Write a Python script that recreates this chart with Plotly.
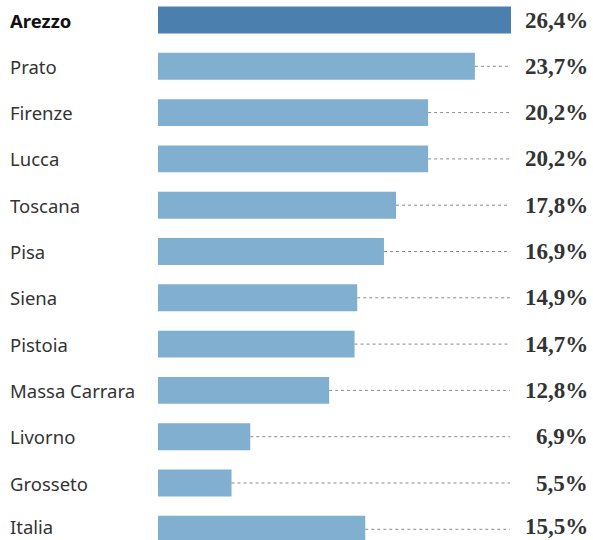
import plotly.graph_objects as go

categories = ["Arezzo", "Prato", "Firenze", "Lucca", "Toscana", "Pisa", "Siena",
              "Pistoia", "Massa Carrara", "Livorno", "Grosseto", "Italia"]
values = [26.4, 23.7, 20.2, 20.2, 17.8, 16.9, 14.9, 14.7, 12.8, 6.9, 5.5, 15.5]
value_labels = ["26,4%", "23,7%", "20,2%", "20,2%", "17,8%", "16,9%", "14,9%",
                "14,7%", "12,8%", "6,9%", "5,5%", "15,5%"]
highlight = "Arezzo"

W, H = 593, 540
L = 158
plot_w = W - L
px_per_unit = (511 - L) / 26.4
xmax = plot_w / px_per_unit
dots_end = (510 - L) / px_per_unit

row = 46.3
top_offset = 20 / row
yr_top = -top_offset
yr_bot = yr_top + H / row

idx = list(range(len(categories)))
colors = ["#4b80ae" if c == highlight else "#80afd0" for c in categories]

fig = go.Figure()
fig.add_trace(go.Bar(
    x=values, y=idx, orientation="h", marker=dict(color=colors, line=dict(width=0)),
    width=0.58, hoverinfo="skip"))

n = len(categories)
for i, (c, v, lab) in enumerate(zip(categories, values, value_labels)):
    if v < dots_end - 0.3:
        fig.add_shape(type="line", xref="x", yref="y", x0=v, x1=dots_end, y0=i, y1=i,
                      line=dict(color="#8a8a8a", width=1, dash="dot"))
    bold = c == highlight
    ys = 3 if i == n - 1 else 0
    fig.add_annotation(xref="paper", yref="y", x=(8 - L) / plot_w, y=i, yshift=ys,
                       text=f"<b>{c}</b>" if bold else c, showarrow=False,
                       xanchor="left", yanchor="middle",
                       font=dict(family="Noto Sans", size=18.5,
                                 color="#111111" if bold else "#333333"))
    fig.add_annotation(xref="paper", yref="y", x=(590 - L) / plot_w, y=i, yshift=ys,
                       text=f"<b>{lab}</b>", showarrow=False, xanchor="right", yanchor="middle",
                       font=dict(family="Liberation Serif", size=23, color="#333333"))

fig.update_layout(
    width=W, height=H, margin=dict(l=L, r=0, t=0, b=0),
    paper_bgcolor="white", plot_bgcolor="white", showlegend=False,
    xaxis=dict(range=[0, xmax], visible=False, fixedrange=True),
    yaxis=dict(range=[yr_bot, yr_top], visible=False, fixedrange=True),
)
fig.write_html("out.html")
